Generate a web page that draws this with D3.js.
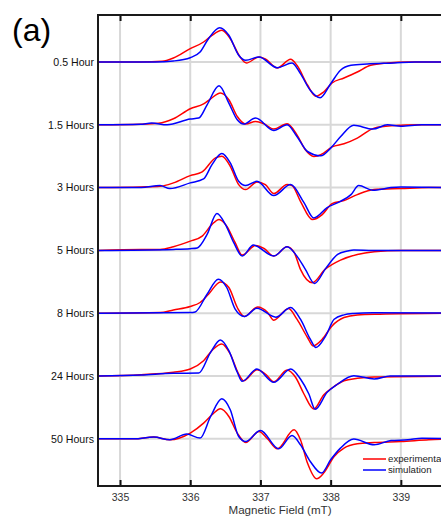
<!DOCTYPE html>
<html>
<head>
<meta charset="utf-8">
<script src="https://cdn.jsdelivr.net/npm/d3@7"></script>
<style>
  body { margin: 0; background: #fff; }
  svg { display: block; font-family: "Liberation Sans", Arial, sans-serif; }
</style>
</head>
<body>
<script>
const fieldTicks = [335, 336, 337, 338, 339];
const traceLabels = ["0.5 Hour", "1.5 Hours", "3 Hours", "5 Hours", "8 Hours", "24 Hours", "50 Hours"];
const legendLabels = ["experimental", "simulation"];

// [field (mT), signal], signal relative to each trace's baseline
const exp05 = [[334.69,0],[335.3,0],[335.6,0.7],[335.76,4],[336.0,13.3],[336.19,20],[336.31,26.7],[336.45,31.7],[336.57,23.3],[336.71,5],[336.8,-1],[336.98,5],[337.07,3],[337.24,-6],[337.43,2.7],[337.52,-3.3],[337.67,-23],[337.79,-34.3],[337.9,-30],[338.02,-21],[338.19,-16],[338.38,-10],[338.57,-3.3],[338.81,-1],[339.1,0],[339.9,0]];
const sim05 = [[334.69,0],[335.5,0],[335.76,1],[336.0,4.3],[336.14,10],[336.26,23.3],[336.42,34.3],[336.55,26.7],[336.69,6.7],[336.79,1.7],[336.98,5],[337.24,-5.7],[337.45,-1],[337.57,-11.7],[337.71,-28.3],[337.85,-35.7],[338.0,-21.7],[338.14,-8.3],[338.29,-3.3],[338.52,-2],[338.9,-1],[339.2,0],[339.9,0]];

const exp15 = [[334.69,0],[335.3,0.5],[335.55,1.5],[335.76,6],[336.0,16],[336.19,21],[336.29,26],[336.43,31.7],[336.55,25],[336.67,8.3],[336.79,0.7],[336.93,3.3],[337.05,1],[337.19,-4.3],[337.38,1],[337.52,-10],[337.64,-25],[337.76,-31.7],[337.9,-28.3],[338.02,-22],[338.19,-19],[338.38,-13.3],[338.62,-3.3],[338.86,-1],[339.3,0],[339.9,0]];
const sim15 = [[334.69,0],[335.29,0.5],[335.45,1.7],[335.67,0],[336.0,5.7],[336.12,6.7],[336.24,20],[336.41,39],[336.55,21.7],[336.67,5],[336.76,0.7],[336.93,6.7],[337.19,-5.7],[337.38,0],[337.52,-11.7],[337.67,-26.7],[337.86,-31],[338.0,-23.3],[338.14,-12],[338.33,-0.5],[338.6,-4.3],[338.81,0],[339.0,-1.5],[339.3,0],[339.9,0]];

const exp3 = [[334.69,0],[335.3,0.7],[335.57,1.3],[335.76,4.7],[336.0,12],[336.17,15.7],[336.36,29.7],[336.45,31.3],[336.57,21.3],[336.69,3],[336.79,-2],[336.95,5.7],[337.07,3],[337.19,-6],[337.38,3],[337.45,2],[337.57,-13.7],[337.74,-32],[337.88,-27],[338.02,-16],[338.19,-13],[338.38,-7],[338.62,-2],[339.0,-1],[339.4,0],[339.9,0]];
const sim3 = [[334.69,0],[335.3,0],[335.57,2],[335.71,-1],[336.0,4.7],[336.19,8.7],[336.31,23],[336.45,34],[336.57,24.7],[336.69,6.3],[336.79,2],[336.95,6.3],[337.19,-8],[337.43,3],[337.62,-15],[337.76,-30.3],[337.95,-20],[338.14,-13.7],[338.29,-7],[338.4,2],[338.6,-2.7],[338.86,0],[339.0,0.5],[339.9,0]];

const exp5 = [[334.69,0],[335.3,1],[335.57,1],[335.76,3.7],[336.0,9.3],[336.17,14.3],[336.31,26],[336.41,31],[336.52,24.3],[336.64,7.7],[336.74,-4.7],[336.93,5],[337.05,2],[337.19,-5.7],[337.38,3.7],[337.48,-2],[337.57,-19],[337.74,-32.3],[337.92,-19],[338.14,-9.7],[338.38,-4],[338.62,-1.3],[339.0,0],[339.9,0]];
const sim5 = [[334.69,0],[335.76,1],[336.0,1.7],[336.1,2.5],[336.24,16],[336.38,37],[336.5,26],[336.62,7.7],[336.74,-5.7],[336.9,5.3],[337.19,-5.7],[337.38,3.7],[337.52,-5.7],[337.64,-19],[337.77,-33],[337.93,-18],[338.1,-4],[338.24,-0.7],[338.33,0.5],[338.6,0],[339.9,0]];

const exp8 = [[334.69,0],[335.57,0.7],[335.76,3.3],[336.0,6.7],[336.14,10.7],[336.26,19],[336.43,31.3],[336.55,25.7],[336.67,5.7],[336.77,-3.3],[336.96,6.3],[337.1,1],[337.19,-7],[337.4,4.7],[337.52,-6],[337.67,-24.3],[337.75,-32.7],[337.88,-26],[338.02,-12.7],[338.19,-4.3],[338.38,-1.7],[338.7,-1],[339.9,0]];
const sim8 = [[334.69,0],[336.0,0.7],[336.07,1.3],[336.24,19],[336.4,34],[336.52,25.7],[336.64,4],[336.77,-3.3],[336.95,5],[337.22,-4],[337.43,5.7],[337.57,-6],[337.71,-26],[337.79,-34.3],[337.93,-22.7],[338.05,-6],[338.19,-1.7],[338.33,-0.3],[338.6,0.5],[339.9,0]];

const exp24 = [[334.69,0],[335.3,1.3],[335.76,3.7],[336.0,7],[336.19,15.3],[336.33,27],[336.45,32],[336.57,22],[336.69,2],[336.76,-4.7],[336.95,6.3],[337.07,2],[337.19,-5.7],[337.38,6],[337.5,-1.3],[337.62,-18],[337.76,-33],[337.9,-19],[338.0,-13],[338.19,-4.7],[338.38,-2.3],[338.62,-1],[339.9,0]];
const sim24 = [[334.69,0],[335.3,1],[335.76,2.7],[336.12,3],[336.29,23.7],[336.43,36],[336.55,25.3],[336.67,3.7],[336.74,-5.3],[336.95,7],[337.19,-6.3],[337.43,7],[337.57,-3],[337.69,-18],[337.78,-33.3],[337.95,-16.3],[338.1,-8],[338.33,0.3],[338.62,-3],[338.85,0],[339.9,0]];

const exp50 = [[334.69,0],[335.2,0],[335.48,1.7],[335.71,-1],[336.0,5.7],[336.19,15.7],[336.31,24],[336.43,30],[336.55,22.3],[336.67,5.7],[336.79,-3.7],[336.98,7.3],[337.1,0],[337.24,-10],[337.48,9],[337.57,-1],[337.67,-24.3],[337.8,-40],[337.9,-34.3],[338.05,-17.7],[338.19,-9.3],[338.38,-5],[338.62,-3.7],[339.0,-2.7],[339.4,-1],[339.9,0]];
const sim50 = [[334.69,0],[335.2,0],[335.48,1.7],[335.71,-1],[335.95,4.7],[336.14,0.7],[336.29,22.3],[336.45,40],[336.57,29],[336.69,2.3],[336.79,-2.7],[337.0,8.3],[337.26,-10],[337.45,3.3],[337.57,-6],[337.71,-22.7],[337.87,-34.3],[338.0,-21],[338.14,-9.3],[338.33,-0.3],[338.62,-6],[338.86,-1.7],[339.1,-1],[339.3,0.5],[339.9,0]];

const experimental = [exp05, exp15, exp3, exp5, exp8, exp24, exp50];
const simulated = [sim05, sim15, sim3, sim5, sim8, sim24, sim50];

const W = 441, H = 518;
const plot = { left: 98, top: 15, bottom: 486 };
const offsetStep = 62.8;

const svg = d3.select("body").append("svg")
    .attr("width", W)
    .attr("height", H);

const x = d3.scaleLinear()
    .domain([334.686, 339.9])
    .range([plot.left, plot.left + 5.214 * 70.2]);

const y = d3.scaleLinear()
    .domain([47, -424])
    .range([plot.top, plot.bottom]);

svg.append("defs").append("clipPath")
    .attr("id", "clip")
    .append("rect")
    .attr("x", plot.left)
    .attr("y", plot.top)
    .attr("width", W - plot.left)
    .attr("height", plot.bottom - plot.top);

const inner = svg.append("g").attr("clip-path", "url(#clip)");

// grid
inner.selectAll(".vgrid")
    .data(fieldTicks)
    .join("line")
    .attr("x1", d => x(d)).attr("x2", d => x(d))
    .attr("y1", plot.top).attr("y2", plot.bottom)
    .attr("stroke", "#d8d8d8")
    .attr("stroke-width", 2);

inner.selectAll(".hgrid")
    .data(traceLabels)
    .join("line")
    .attr("x1", plot.left).attr("x2", W)
    .attr("y1", (d, i) => y(-i * offsetStep))
    .attr("y2", (d, i) => y(-i * offsetStep))
    .attr("stroke", "#d8d8d8")
    .attr("stroke-width", 2);

const line = offset => d3.line()
    .x(d => x(d[0]))
    .y(d => y(d[1] - offset))
    .curve(d3.curveMonotoneX);

experimental.forEach((series, i) => {
    inner.append("path")
        .datum(series)
        .attr("fill", "none")
        .attr("stroke", "#ff0000")
        .attr("stroke-width", 1.5)
        .attr("d", line(i * offsetStep));
});

simulated.forEach((series, i) => {
    inner.append("path")
        .datum(series)
        .attr("fill", "none")
        .attr("stroke", "#0000ff")
        .attr("stroke-width", 1.5)
        .attr("d", line(i * offsetStep));
});

// axes
const bottomAxis = svg.append("g")
    .attr("transform", `translate(0,${plot.bottom})`)
    .call(d3.axisBottom(x).tickValues(fieldTicks).tickSize(-6).tickPadding(8).tickFormat(d3.format("d")));
bottomAxis.select(".domain").remove();
bottomAxis.selectAll(".tick line").attr("stroke", "#111").attr("stroke-width", 2);
bottomAxis.selectAll(".tick text").attr("font-size", 10.5).attr("fill", "#333").attr("font-family", "Liberation Sans, Arial, sans-serif");

const topAxis = svg.append("g")
    .attr("transform", `translate(0,${plot.top})`)
    .call(d3.axisTop(x).tickValues(fieldTicks).tickSize(-6).tickFormat(""));
topAxis.select(".domain").remove();
topAxis.selectAll(".tick line").attr("stroke", "#111").attr("stroke-width", 2);

// frame
svg.append("path")
    .attr("d", `M${W},${plot.top}H${plot.left}V${plot.bottom}H${W}`)
    .attr("fill", "none")
    .attr("stroke", "#1a1a1a")
    .attr("stroke-width", 2);

svg.append("text")
    .attr("x", (plot.left + x(339.9)) / 2 - 1)
    .attr("y", 514)
    .attr("text-anchor", "middle")
    .attr("font-size", 11.6)
    .attr("fill", "#333")
    .text("Magnetic Field (mT)");

svg.selectAll(".tlabel")
    .data(traceLabels)
    .join("text")
    .attr("x", 94)
    .attr("y", (d, i) => y(-i * offsetStep) + 3.8)
    .attr("text-anchor", "end")
    .attr("font-size", 10.6)
    .attr("fill", "#111")
    .text(d => d);

svg.append("text")
    .attr("x", 12)
    .attr("y", 41)
    .attr("font-size", 32)
    .attr("fill", "#000")
    .text("(a)");

// legend
const legend = svg.append("g");
legendLabels.forEach((label, i) => {
    const ly = 459 + i * 11;
    legend.append("line")
        .attr("x1", 363).attr("x2", 386)
        .attr("y1", ly).attr("y2", ly)
        .attr("stroke", i === 0 ? "#ff0000" : "#0000ff")
        .attr("stroke-width", 1.5);
    legend.append("text")
        .attr("x", 388)
        .attr("y", ly + 3.3)
        .attr("font-size", 9.7)
        .attr("fill", "#222")
        .text(label);
});
</script>
</body>
</html>
